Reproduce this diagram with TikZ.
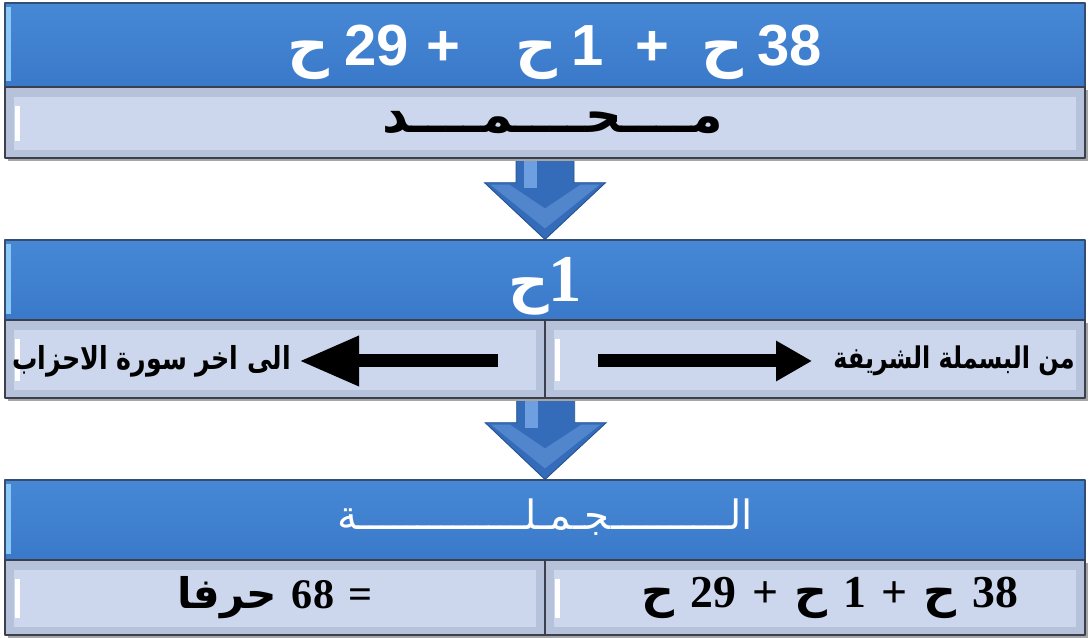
\documentclass[tikz,border=0pt]{standalone}
\usepackage{fontspec}
\usetikzlibrary{positioning,calc,arrows.meta,shadows,backgrounds}
\TeXXeTstate=1
\newfontfamily\arabicfont[Script=Arabic]{DejaVu Sans}
\newfontfamily\arabicnarrow[Script=Arabic,FakeStretch=0.8]{DejaVu Sans}
\newfontfamily\sansnum{Liberation Sans}
\newfontfamily\serifnum{Liberation Serif}
\definecolor{bandtop}{RGB}{70,136,214}
\definecolor{bandbot}{RGB}{58,121,201}
\definecolor{bandedge}{RGB}{52,78,112}
\definecolor{bandhi}{RGB}{140,200,245}
\definecolor{cellout}{RGB}{182,194,217}
\definecolor{cellin}{RGB}{204,215,237}
\definecolor{cellline}{RGB}{60,64,78}
\definecolor{arrblue}{RGB}{52,108,186}
\definecolor{arrlight}{RGB}{110,160,225}
\definecolor{arrdark}{RGB}{36,80,146}

\begin{document}
\begin{tikzpicture}[
  x=1cm,y=1cm,
  line join=round,
  band/.style={draw=bandedge, line width=0.6pt, top color=bandtop, bottom color=bandbot,
    minimum width=21.6cm, inner sep=0pt, text=white,
    path picture={
      \fill[bandhi] ($(path picture bounding box.south west)+(0,0.12)$) rectangle ($(path picture bounding box.north west)+(0.12,-0.08)$);
    }},
  cell/.style={draw=cellline, fill=cellout, line width=0.8pt, inner sep=0pt,
    drop shadow={shadow xshift=0.06cm, shadow yshift=-0.07cm, fill=gray!70, opacity=1},
    path picture={
      \fill[cellin] ($(path picture bounding box.south west)+(0.18,0.16)$) rectangle ($(path picture bounding box.north east)+(-0.18,-0.2)$);
      \fill[white] ($(path picture bounding box.south west)+(0.2,0.34)$) rectangle ($(path picture bounding box.north west)+(0.3,-0.38)$);
    }},
  blockarr/.style={fill=arrblue, draw=arrdark, line width=0.5pt},
  blackarr/.style={line width=0.26cm, black}
  ]
  \useasboundingbox (0,0) rectangle (21.82,12.76);
  %----- parameters
  \def\shaftW{0.58}
  \def\headW{1.21}
  \def\shaftL{0.48}

  %----- top: band + row
  \node[band, minimum height=1.68cm, text height=1.0cm, text depth=0.16cm,
        font=\fontsize{33}{36}\selectfont\arabicfont\bfseries] (topBand) at (10.90,11.86)
    {\hspace{0.4cm}\beginR\beginL{\sansnum 38}\endL\hspace{0.25em}ح\hspace{0.55em}{\sansnum +}\hspace{0.55em}\beginL{\sansnum 1}\endL\hspace{0.25em}ح\hspace{0.95em}{\sansnum +}\hspace{0.3em}\beginL{\sansnum 29}\endL\hspace{0.25em}ح\endR};
  \node[cell, minimum width=21.6cm, minimum height=1.42cm, font=\fontsize{29}{32}\selectfont\arabicfont\bfseries] (topRow) at (10.90,10.31)
    {\hspace{0.3cm}\beginR مــــحــــمــــد\endR};

  %----- middle: band + two cells
  \node[band, minimum height=1.60cm, text height=1.1cm, text depth=0.22cm,
        font=\fontsize{32}{36}\selectfont\arabicfont\bfseries] (midBand) at (10.90,7.16)
    {\beginR{\serifnum\fontsize{38}{40}\selectfont 1}ح\endR};
  \node[cell, minimum width=10.8cm, minimum height=1.56cm] (midL) at (5.50,5.58) {};
  \node[cell, minimum width=10.8cm, minimum height=1.56cm] (midR) at (16.30,5.58) {};
  \node[anchor=west, font=\fontsize{18}{22}\selectfont\arabicnarrow\bfseries] (toText) at (0.12,5.54)
    {\beginR الى اخر سورة الاحزاب\endR};
  \node[anchor=east, font=\fontsize{17}{22}\selectfont\arabicnarrow\bfseries] (fromText) at (21.62,5.54)
    {\beginR من البسملة الشريفة\endR};

  %----- bottom: band + two cells
  \node[band, minimum height=1.60cm, text height=0.7cm, text depth=0.3cm,
        font=\fontsize{23}{28}\selectfont\arabicfont] (lowBand) at (10.90,2.36)
    {\beginR الــــــــــجـمـلــــــــــــــة\endR};
  \node[cell, minimum width=10.8cm, minimum height=1.50cm, font=\fontsize{24}{28}\selectfont\arabicfont\bfseries] (lowL) at (5.50,0.81)
    {\beginR{\serifnum =}\ \beginL{\serifnum 68}\endL\ حرفا\endR};
  \node[cell, minimum width=10.8cm, minimum height=1.50cm, font=\fontsize{26}{30}\selectfont\arabicfont\bfseries] (lowR) at (16.30,0.81)
    {\hspace{0.6cm}\beginR\beginL{\serifnum 38}\endL\ ح {\serifnum +} \beginL{\serifnum 1}\endL\ ح {\serifnum +} \beginL{\serifnum 29}\endL\ ح\endR};

  %----- black arrows in the middle cells
  \coordinate (lStart) at (9.96,5.54);
  \coordinate (rStart) at (11.96,5.54);
  \draw[blackarr, -{Triangle[length=1.2cm,width=0.94cm]}, shorten >=0.04cm] (lStart) -- (toText.east);
  \draw[blackarr, -{Triangle[length=0.72cm,width=0.76cm]}, shorten >=0.3cm] (rStart) -- (fromText.west);

  %----- blue block arrows between the parts
  \coordinate (a1) at (topRow.south);
  \coordinate (a2) at (midL.south east);
  \begin{scope}[on background layer]
    \foreach \s/\d in {a1/midBand, a2/lowBand}{
      \draw[blockarr] ($(\s)+(-\shaftW,0)$) -- ++(0,-\shaftL) -- ($(\s)+(-\headW,-\shaftL)$)
        -- (\d.north) -- ($(\s)+(\headW,-\shaftL)$) -- ($(\s)+(\shaftW,-\shaftL)$) -- ($(\s)+(\shaftW,0)$) -- cycle;
      \fill[arrlight] ($(\s)+(-0.42,0)$) rectangle ($(\s)+(-0.16,-\shaftL-0.1)$);
      \fill[arrlight, opacity=0.5] ($(\s)+(-\headW+0.12,-\shaftL-0.04)$) -- ($(\d.north)+(0,0.22)$)
        -- ($(\s)+(\headW-0.12,-\shaftL-0.04)$) -- ($(\s)+(\headW-0.5,-\shaftL-0.04)$)
        -- ($(\d.north)+(0,0.62)$) -- ($(\s)+(-\headW+0.5,-\shaftL-0.04)$) -- cycle;
    }
  \end{scope}
\end{tikzpicture}
\end{document}
